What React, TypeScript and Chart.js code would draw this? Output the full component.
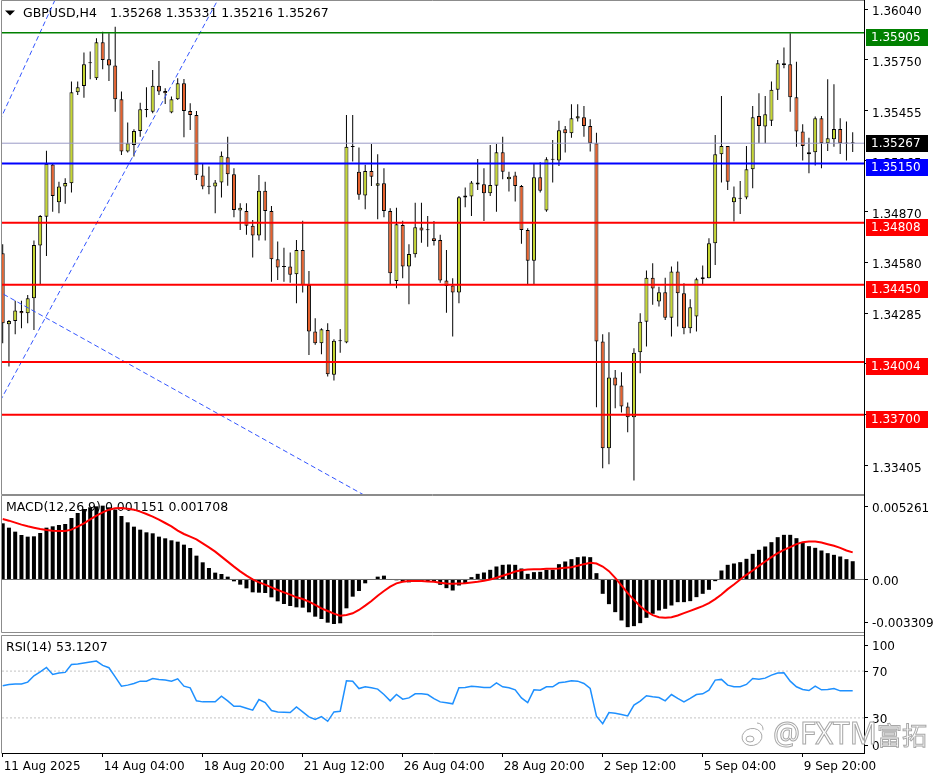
import React, { useEffect, useRef } from "react";
import { Chart, registerables } from "chart.js";

Chart.register(...registerables);

// ---------------- DATA ----------------
const opens = [
  1.34632, 1.34222, 1.34241, 1.34299, 1.34285, 1.34372, 1.34676, 1.34843, 1.35144, 1.34926,
  1.35017, 1.35036, 1.35561, 1.35598, 1.35728, 1.35642, 1.3585, 1.35752, 1.35715, 1.35521,
  1.35219, 1.35257, 1.35338, 1.35459, 1.35449, 1.35599, 1.35569, 1.35444, 1.35521, 1.35613,
  1.35453, 1.3543, 1.3508, 1.35017, 1.35017, 1.3504, 1.35186, 1.35088, 1.34878, 1.34876,
  1.34791, 1.34734, 1.34993, 1.34876, 1.34597, 1.34555, 1.34555, 1.34511, 1.34651, 1.34449,
  1.3418, 1.34112, 1.34189, 1.3393, 1.34124, 1.34116, 1.35247, 1.35103, 1.34965, 1.35107,
  1.35022, 1.35036, 1.34876, 1.34472, 1.34795, 1.34555, 1.34626, 1.3478, 1.34766, 1.34718,
  1.34709, 1.34474, 1.34445, 1.34405, 1.34953, 1.34959, 1.35028, 1.3503, 1.34978, 1.35022,
  1.35215, 1.35059, 1.3508, 1.3502, 1.34766, 1.34589, 1.3507, 1.34878, 1.35172, 1.35167,
  1.35347, 1.35324, 1.35409, 1.35417, 1.35367, 1.35267, 1.34122, 1.33506, 1.33914, 1.33868,
  1.33747, 1.33685, 1.3406, 1.34237, 1.34491, 1.34353, 1.34407, 1.3426, 1.34526, 1.34401,
  1.34199, 1.34266, 1.34482, 1.34487, 1.34689, 1.35203, 1.35251, 1.34926, 1.34947, 1.34953,
  1.35117, 1.35424, 1.35363, 1.35396, 1.35575, 1.35728, 1.35723, 1.35532, 1.35334, 1.35203,
  1.35215, 1.35411, 1.35267, 1.3529, 1.35349, 1.35267, 1.35268,
];
const highs = [
  1.34684, 1.34247, 1.34357, 1.34357, 1.34391, 1.34705, 1.34853, 1.35224, 1.35151, 1.35045,
  1.35065, 1.35623, 1.35623, 1.3579, 1.35796, 1.35873, 1.35911, 1.35902, 1.3594, 1.35565,
  1.35386, 1.35347, 1.35501, 1.3559, 1.3569, 1.35742, 1.35584, 1.35536, 1.35642, 1.35638,
  1.35498, 1.35453, 1.35151, 1.35132, 1.35055, 1.35219, 1.35305, 1.35122, 1.3492, 1.3492,
  1.34824, 1.35084, 1.35045, 1.34905, 1.34699, 1.34664, 1.34636, 1.34709, 1.3482, 1.34529,
  1.34257, 1.34199, 1.34228, 1.34135, 1.34195, 1.3543, 1.3543, 1.35242, 1.35142, 1.35263,
  1.35203, 1.35122, 1.34892, 1.34895, 1.3482, 1.34684, 1.34924, 1.34924, 1.34847, 1.34818,
  1.34738, 1.34651, 1.34487, 1.34963, 1.35011, 1.35049, 1.35176, 1.35122, 1.35257, 1.35263,
  1.35305, 1.35103, 1.35103, 1.35026, 1.34776, 1.35151, 1.35157, 1.35186, 1.35286, 1.35396,
  1.35367, 1.35492, 1.35492, 1.35482, 1.35405, 1.35328, 1.34164, 1.34176, 1.33958, 1.33945,
  1.3377, 1.34083, 1.34285, 1.34532, 1.34574, 1.34439, 1.34491, 1.34555, 1.34584, 1.34459,
  1.34366, 1.34491, 1.34561, 1.34718, 1.35315, 1.3554, 1.35251, 1.35017, 1.35049, 1.35251,
  1.35482, 1.35555, 1.3554, 1.35623, 1.35748, 1.35819, 1.35902, 1.35738, 1.35376, 1.35299,
  1.35421, 1.35424, 1.35636, 1.35607, 1.35411, 1.35392, 1.35331,
];
const lows = [
  1.34112, 1.33978, 1.34164, 1.34199, 1.34228, 1.34189, 1.34449, 1.34616, 1.34872, 1.34863,
  1.34917, 1.34982, 1.35546, 1.3553, 1.35636, 1.35632, 1.35694, 1.35626, 1.35449, 1.35199,
  1.35213, 1.3519, 1.35305, 1.35417, 1.3544, 1.35546, 1.35494, 1.3544, 1.35517, 1.35301,
  1.35344, 1.35055, 1.35001, 1.34972, 1.34863, 1.34953, 1.35022, 1.3484, 1.34766, 1.34738,
  1.34607, 1.34705, 1.34705, 1.34468, 1.34478, 1.34468, 1.34462, 1.34343, 1.34405, 1.34045,
  1.34103, 1.34049, 1.3392, 1.33897, 1.34058, 1.34112, 1.35161, 1.3494, 1.34886, 1.3502,
  1.34828, 1.3484, 1.34449, 1.3443, 1.34487, 1.34337, 1.34607, 1.34693, 1.3467, 1.34676,
  1.34462, 1.34289, 1.34151, 1.34343, 1.34897, 1.34847, 1.34997, 1.34818, 1.34963, 1.34872,
  1.35059, 1.34988, 1.3493, 1.34686, 1.34449, 1.34453, 1.34982, 1.34872, 1.3504, 1.35136,
  1.35213, 1.35299, 1.35392, 1.35305, 1.35219, 1.33743, 1.33391, 1.33414, 1.33737, 1.33712,
  1.33599, 1.3332, 1.33939, 1.34093, 1.34334, 1.34324, 1.34247, 1.34151, 1.34209, 1.34164,
  1.3417, 1.3418, 1.34455, 1.34487, 1.34564, 1.3504, 1.34997, 1.34815, 1.34859, 1.34943,
  1.35007, 1.35267, 1.35267, 1.35367, 1.35517, 1.357, 1.35449, 1.35247, 1.35167, 1.35094,
  1.35138, 1.35122, 1.35222, 1.35247, 1.35205, 1.35167, 1.35216,
];
const closes = [
  1.34228, 1.34241, 1.34301, 1.34285, 1.34372, 1.3468, 1.34847, 1.35149, 1.34963, 1.35017,
  1.35038, 1.35561, 1.3559, 1.35723, 1.3573, 1.3585, 1.35748, 1.35715, 1.35521, 1.35219,
  1.35267, 1.35338, 1.35463, 1.35461, 1.35599, 1.35565, 1.35555, 1.35521, 1.35613, 1.35453,
  1.3543, 1.35082, 1.35017, 1.35015, 1.3504, 1.35194, 1.35088, 1.34882, 1.34895, 1.34791,
  1.34734, 1.34993, 1.34876, 1.34597, 1.34549, 1.34553, 1.34507, 1.34651, 1.34449, 1.3418,
  1.34112, 1.34193, 1.33933, 1.34126, 1.34126, 1.35247, 1.35245, 1.34969, 1.35107, 1.35074,
  1.35036, 1.34876, 1.34516, 1.34799, 1.34555, 1.34628, 1.34782, 1.34763, 1.34765, 1.34703,
  1.34474, 1.34443, 1.34405, 1.34955, 1.34965, 1.3504, 1.3504, 1.34978, 1.35026, 1.35215,
  1.35103, 1.35074, 1.3502, 1.34766, 1.34589, 1.3507, 1.34993, 1.35174, 1.35174, 1.35342,
  1.35324, 1.35411, 1.35423, 1.35367, 1.35267, 1.34122, 1.33506, 1.33914, 1.33868, 1.33747,
  1.33685, 1.34058, 1.34237, 1.34491, 1.34428, 1.34407, 1.3426, 1.34526, 1.34401, 1.34199,
  1.3432, 1.34482, 1.34493, 1.34689, 1.35203, 1.35251, 1.35045, 1.34955, 1.34949, 1.35117,
  1.35417, 1.35367, 1.35434, 1.35575, 1.35728, 1.35719, 1.35532, 1.35334, 1.35251, 1.35215,
  1.35411, 1.35267, 1.35296, 1.35349, 1.35267, 1.35265, 1.35267,
];
const macdHist = [
  0.003539, 0.003266, 0.003014, 0.002804, 0.002699, 0.00272, 0.00293, 0.003266, 0.00335, 0.003434,
  0.003497, 0.003875, 0.00419, 0.004442, 0.004547, 0.00461, 0.004652, 0.004547, 0.0044, 0.004001,
  0.003602, 0.003329, 0.00314, 0.002972, 0.002909, 0.002699, 0.002594, 0.002468, 0.002384, 0.002195,
  0.001985, 0.001502, 0.001082, 0.000725, 0.000431, 0.000347, 0.000179, -0.000116, -0.000326, -0.000557,
  -0.000809, -0.00083, -0.000851, -0.001124, -0.001376, -0.001544, -0.00167, -0.001754, -0.001775, -0.002069,
  -0.002342, -0.002489, -0.00272, -0.002804, -0.002762, -0.001817, -0.001082, -0.000725, -0.000242, 0.00002,
  0.000179, 0.000242, -0.00001, -0.00005, -0.000137, -0.000179, -0.000137, -0.000137, -0.0001, -0.00015,
  -0.000336, -0.000546, -0.000693, -0.000378, -0.000231, 0.000147, 0.000357, 0.000441, 0.000609, 0.000819,
  0.000924, 0.000945, 0.000924, 0.000693, 0.000357, 0.000462, 0.000483, 0.000609, 0.000609, 0.000966,
  0.001134, 0.001281, 0.001407, 0.001449, 0.001407, 0.000399, -0.000903, -0.001554, -0.002058, -0.002583,
  -0.003003, -0.00294, -0.002751, -0.002415, -0.002163, -0.001953, -0.001848, -0.001638, -0.001428, -0.001428,
  -0.001365, -0.001113, -0.000903, -0.000651, -0.000105, 0.000567, 0.000924, 0.001008, 0.001092, 0.001302,
  0.001617, 0.001869, 0.002079, 0.002352, 0.002667, 0.002814, 0.002814, 0.002604, 0.002352, 0.0021,
  0.001995, 0.001827, 0.001659, 0.001554, 0.001449, 0.001281, 0.001151,
];
const macdSignal = [
  0.003812, 0.003707, 0.003581, 0.003455, 0.00335, 0.003266, 0.003182, 0.003119, 0.003077, 0.003056,
  0.003056, 0.00314, 0.003329, 0.003539, 0.003791, 0.004022, 0.004232, 0.0044, 0.004484, 0.004505,
  0.004463, 0.0044, 0.004274, 0.004127, 0.003959, 0.00377, 0.00356, 0.00335, 0.003077, 0.002867,
  0.002699, 0.002531, 0.002279, 0.002027, 0.001754, 0.001439, 0.001124, 0.000809, 0.000515, 0.000242,
  0.000011, -0.000179, -0.000326, -0.000494, -0.000662, -0.000809, -0.000956, -0.001124, -0.001229, -0.001397,
  -0.001607, -0.001817, -0.001985, -0.002153, -0.002279, -0.002237, -0.002132, -0.001922, -0.001649, -0.001355,
  -0.001019, -0.000725, -0.000452, -0.000242, -0.000137, -0.0001, -0.0001, -0.0001, -0.00012, -0.000147,
  -0.00021, -0.000252, -0.000273, -0.000252, -0.000231, -0.000189, -0.000147, -0.000084, 0.0, 0.000105,
  0.000231, 0.000357, 0.000504, 0.000588, 0.00063, 0.000651, 0.000651, 0.000672, 0.000672, 0.000693,
  0.000735, 0.000777, 0.000861, 0.000966, 0.00105, 0.001008, 0.000819, 0.000525, 0.000105, -0.000378,
  -0.000861, -0.001281, -0.00168, -0.002016, -0.002247, -0.002373, -0.002415, -0.002373, -0.002268, -0.002121,
  -0.001974, -0.001827, -0.00168, -0.001491, -0.001239, -0.000945, -0.000609, -0.000315, 0.0, 0.000294,
  0.000567, 0.000861, 0.001134, 0.001407, 0.001659, 0.001869, 0.002037, 0.002226, 0.002352, 0.002394,
  0.002394, 0.002331, 0.002226, 0.002121, 0.001995, 0.001827, 0.001708,
];
const rsiValues = [
  57.4, 58.6, 58.9, 58.9, 60.6, 66.0, 69.4, 73.1, 67.1, 68.3,
  68.9, 75.7, 76.0, 76.9, 77.7, 78.6, 74.9, 72.9, 65.1, 57.1,
  58.0, 59.4, 61.4, 61.4, 63.7, 62.9, 62.3, 61.4, 63.4, 57.1,
  55.7, 44.6, 43.7, 43.7, 43.7, 48.6, 44.6, 40.0, 40.0, 38.3,
  36.6, 45.7, 43.1, 36.3, 35.1, 34.9, 34.6, 39.4, 35.1, 30.9,
  28.6, 31.1, 27.1, 35.1, 35.7, 61.7, 61.4, 55.1, 56.6, 55.7,
  54.6, 50.0, 44.6, 50.0, 46.0, 47.1, 50.6, 50.6, 50.0, 46.5,
  43.7, 42.9, 42.0, 55.7, 56.0, 57.1, 56.6, 56.0, 56.0, 60.0,
  56.6, 55.7, 54.0, 47.1, 43.1, 54.0, 53.7, 56.6, 56.6, 60.0,
  60.6, 61.7, 61.4, 59.4, 55.1, 31.4, 25.1, 34.6, 34.0, 32.9,
  31.7, 40.9, 44.3, 48.9, 48.0, 47.4, 44.6, 50.0, 46.6, 43.7,
  46.6, 50.0, 50.6, 53.7, 62.3, 62.9, 58.0, 56.6, 56.6, 58.6,
  63.7, 63.1, 64.0, 66.6, 68.3, 68.6, 61.4, 56.6, 54.3, 53.4,
  57.1, 54.0, 54.3, 55.1, 53.1, 53.1, 53.1207,
];

const xTickIndex = [0, 16, 32, 48, 64, 80, 96, 112, 128];
const xTickText = [
  "11 Aug 2025", "14 Aug 04:00", "18 Aug 20:00", "21 Aug 12:00", "26 Aug 04:00",
  "28 Aug 20:00", "2 Sep 12:00", "5 Sep 04:00", "9 Sep 20:00",
];
const priceTicks = [1.3604, 1.3575, 1.35455, 1.35165, 1.3487, 1.3458, 1.34285, 1.33995, 1.337, 1.33405];
const levelPrices = [1.35905, 1.3515, 1.34808, 1.3445, 1.34004, 1.337];
const levelColors = ["#008000", "#0000ff", "#ff0000", "#ff0000", "#ff0000", "#ff0000"];
const levelWidths = [1.5, 2, 2, 2, 2, 2];
const currentPrice = 1.35267;
const headerSymbol = "GBPUSD,H4";
const headerQuote = [1.35268, 1.35331, 1.35216, 1.35267];
// trend lines: [startIndex, startPrice, endIndex, endPrice]
const trendStartX = [-1, -1, -1];
const trendStartY = [1.35355, 1.33739, 1.34418];
const trendEndX = [9, 35, 60];
const trendEndY = [1.36144, 1.36133, 1.33192];
const macdTitle = "MACD(12,26,9) 0.001151 0.001708";
const macdAxisValues = [0.005261, 0, -0.003309];
const macdAxisText = ["0.005261", "0.00", "-0.003309"];
const rsiTitle = "RSI(14) 53.1207";
const rsiAxisValues = [100, 70, 30, 0];
const rsiAxisText = ["100", "70", "30", "0"];
const rsiLevels = [70, 30];

// ---------------- STYLE / GEOMETRY ----------------
const FONT = "'DejaVu Sans', Verdana, sans-serif";
const W = 936;
const AXIS_W = 72;
const PAD_L = 2;
const X_MIN = -0.112;
const X_MAX = 137.808;
const MAIN_MIN = 1.33242;
const MAIN_MAX = 1.36088;
const MACD_MIN = -0.003309;
const MACD_MAX = 0.005261;
const MACD_PANEL_H = 136;
const RSI_PANEL_H = 117;
const macdShiftPx = [11, 0, -10];
const rsiShiftPx = [9, 0, 0, -8];
const BULL = "#c6d730";
const BEAR = "#e8612c";

const idx = opens.map((_, i) => i);

function zeroPad(s: any) {
  s.paddingTop = 0;
  s.paddingBottom = 0;
  s.paddingLeft = 0;
  s.paddingRight = 0;
}

function hiddenX() {
  return {
    type: "linear",
    min: X_MIN,
    max: X_MAX,
    offset: false,
    display: false,
    afterFit: (s: any) => zeroPad(s),
  };
}

function rightAxis(
  min: number,
  max: number,
  values: number[],
  texts: string[],
  shifts: number[],
  panelH: number,
  labelOffset: number
) {
  return {
    position: "right",
    min,
    max,
    beginAtZero: false,
    afterFit: (s: any) => {
      s.width = AXIS_W;
      zeroPad(s);
    },
    afterBuildTicks: (s: any) => {
      const perPx = (max - min) / panelH;
      s.ticks = values.map((v, k) => ({ value: v - shifts[k] * perPx }));
    },
    ticks: {
      autoSkip: false,
      padding: 4,
      labelOffset,
      color: "#000",
      font: { family: FONT, size: 12 },
      callback: (_v: any, i: number) => texts[i],
    },
    grid: { drawOnChartArea: false, drawTicks: true, tickLength: 4, color: "#000", lineWidth: 1 },
    border: { display: true, color: "#000", width: 1 },
  };
}

function framePlugin(drawBottom: boolean, axisToCanvasBottom: boolean) {
  return {
    id: "frame",
    afterDraw(chart: any) {
      const { ctx, chartArea: a } = chart;
      ctx.save();
      ctx.strokeStyle = "#8c8c8c";
      ctx.lineWidth = 1;
      ctx.beginPath();
      ctx.moveTo(a.left - 0.5, a.top - 0.5);
      ctx.lineTo(a.right, a.top - 0.5);
      ctx.moveTo(a.left - 0.5, a.top - 0.5);
      ctx.lineTo(a.left - 0.5, a.bottom + 0.5);
      if (drawBottom) {
        ctx.moveTo(a.left - 0.5, a.bottom + 0.5);
        ctx.lineTo(a.right, a.bottom + 0.5);
      }
      ctx.stroke();
      ctx.strokeStyle = "#000";
      ctx.beginPath();
      ctx.moveTo(a.right + 0.5, 0);
      ctx.lineTo(a.right + 0.5, axisToCanvasBottom ? chart.height : a.bottom + 1);
      ctx.stroke();
      ctx.restore();
    },
  };
}

function flatLine(y: number, color: string, width: number, dash: number[] = []) {
  return {
    type: "line",
    data: [
      { x: X_MIN, y },
      { x: X_MAX, y },
    ],
    borderColor: color,
    borderWidth: width,
    borderDash: dash,
    pointRadius: 0,
    order: 0,
  };
}

const baseOptions = {
  responsive: false,
  animation: false,
  events: [],
  plugins: { legend: { display: false }, tooltip: { enabled: false } },
};

function buildMain(canvas: HTMLCanvasElement) {
  const headerPlugin = {
    id: "header",
    beforeDatasetsDraw(chart: any) {
      const ctx = chart.ctx;
      ctx.save();
      ctx.fillStyle = "#000";
      ctx.beginPath();
      ctx.moveTo(5, 10.5);
      ctx.lineTo(15, 10.5);
      ctx.lineTo(10, 15.5);
      ctx.closePath();
      ctx.fill();
      ctx.font = `12.5px ${FONT}`;
      ctx.textBaseline = "middle";
      ctx.fillText(headerSymbol, 23, 13.5);
      ctx.fillText(headerQuote.map((v) => v.toFixed(5)).join(" "), 110, 13.5);
      ctx.restore();
    },
  };
  const boxesPlugin = {
    id: "priceBoxes",
    afterDraw(chart: any) {
      const ctx = chart.ctx;
      const ys = chart.scales.y;
      const x0 = chart.chartArea.right + 2;
      ctx.save();
      ctx.font = `12px ${FONT}`;
      ctx.textBaseline = "middle";
      levelPrices.forEach((p, k) => {
        const py = Math.round(ys.getPixelForValue(p));
        ctx.fillStyle = levelColors[k];
        ctx.fillRect(x0, py - 4, 62, 17);
        ctx.fillStyle = "#fff";
        ctx.fillText(p.toFixed(5), x0 + 5, py + 4.5);
      });
      const cy = Math.round(ys.getPixelForValue(currentPrice));
      ctx.fillStyle = "#000";
      ctx.fillRect(x0, cy - 8, 62, 17);
      ctx.fillStyle = "#fff";
      ctx.fillText(currentPrice.toFixed(5), x0 + 5, cy + 0.5);
      ctx.restore();
    },
  };

  const datasets: any[] = [
    ...levelPrices.map((p, k) => flatLine(p, levelColors[k], levelWidths[k])),
    flatLine(currentPrice, "#9a9ac6", 1),
    ...trendStartX.map((_, k) => ({
      type: "line",
      data: [
        { x: trendStartX[k], y: trendStartY[k] },
        { x: trendEndX[k], y: trendEndY[k] },
      ],
      borderColor: "#3355ff",
      borderWidth: 1,
      borderDash: [5, 3],
      pointRadius: 0,
      order: 0,
    })),
    {
      type: "bar",
      data: idx.map((i) => ({ x: i, y: [Math.min(opens[i], closes[i]), Math.max(opens[i], closes[i])] })),
      backgroundColor: idx.map((i) => (closes[i] >= opens[i] ? BULL : BEAR)),
      borderColor: "#000",
      borderWidth: 1,
      borderSkipped: false,
      barThickness: 4,
      maxBarThickness: 4,
      minBarLength: 1,
      inflateAmount: 0,
      grouped: false,
      order: 1,
    },
    {
      type: "bar",
      data: idx.map((i) => ({ x: i, y: [lows[i], highs[i]] })),
      backgroundColor: "#000",
      borderWidth: 0,
      barThickness: 1,
      maxBarThickness: 1,
      minBarLength: 1,
      inflateAmount: 0,
      grouped: false,
      order: 2,
    },
  ];

  return new Chart(canvas, {
    type: "bar",
    data: { datasets },
    options: {
      ...baseOptions,
      layout: { padding: { left: PAD_L, top: 1, bottom: 1, right: 0 } },
      scales: {
        x: hiddenX(),
        y: rightAxis(
          MAIN_MIN,
          MAIN_MAX,
          priceTicks,
          priceTicks.map((v) => v.toFixed(5)),
          priceTicks.map(() => 0),
          493,
          3
        ),
      },
    },
    plugins: [headerPlugin, framePlugin(true, true), boxesPlugin],
  } as any);
}

function titlePlugin(text: string, y: number) {
  return {
    id: "title",
    beforeDatasetsDraw(chart: any) {
      const ctx = chart.ctx;
      ctx.save();
      ctx.fillStyle = "#000";
      ctx.font = `12.5px ${FONT}`;
      ctx.textBaseline = "middle";
      ctx.fillText(text, 6, y);
      ctx.restore();
    },
  };
}

function buildMacd(canvas: HTMLCanvasElement) {
  return new Chart(canvas, {
    type: "bar",
    data: {
      datasets: [
        {
          type: "line",
          data: idx.map((i) => ({ x: i, y: macdSignal[i] })),
          borderColor: "#ff0000",
          borderWidth: 2,
          pointRadius: 0,
          tension: 0,
          order: 0,
        },
        { ...flatLine(0, "#6a6a6a", 1), order: 1 },
        {
          type: "bar",
          data: idx.map((i) => ({ x: i, y: macdHist[i] })),
          backgroundColor: "#000",
          borderWidth: 0,
          barThickness: 4,
          maxBarThickness: 4,
          inflateAmount: 0,
          grouped: false,
          order: 2,
        },
      ],
    },
    options: {
      ...baseOptions,
      layout: { padding: { left: PAD_L, top: 1, bottom: 1, right: 0 } },
      scales: {
        x: hiddenX(),
        y: rightAxis(MACD_MIN, MACD_MAX, macdAxisValues, macdAxisText, macdShiftPx, MACD_PANEL_H, 2),
      },
    },
    plugins: [titlePlugin(macdTitle, 13), framePlugin(true, true)],
  } as any);
}

function buildRsi(canvas: HTMLCanvasElement) {
  const watermark = {
    id: "watermark",
    afterDraw(chart: any) {
      const ctx = chart.ctx;
      ctx.save();
      ctx.strokeStyle = "#a8a8a8";
      ctx.fillStyle = "rgba(255,255,255,0.65)";
      ctx.lineWidth = 1;
      ctx.beginPath();
      ctx.ellipse(752, 104, 10, 8.5, -0.2, 0, Math.PI * 2);
      ctx.fill();
      ctx.stroke();
      ctx.beginPath();
      ctx.ellipse(750, 106, 4, 3, 0, 0, Math.PI * 2);
      ctx.stroke();
      ctx.beginPath();
      ctx.arc(757, 96, 6, -Math.PI / 2, 0.2);
      ctx.stroke();
      ctx.textBaseline = "alphabetic";
      ctx.font = `30px 'Noto Sans', sans-serif`;
      ctx.fillText("@FXTM", 773, 111);
      ctx.strokeText("@FXTM", 773, 111);
      ctx.font = `25px 'Noto Sans CJK SC', sans-serif`;
      ctx.fillText("富拓", 877, 112);
      ctx.strokeText("富拓", 877, 112);
      ctx.restore();
    },
  };
  return new Chart(canvas, {
    type: "line",
    data: {
      datasets: [
        {
          type: "line",
          data: idx.map((i) => ({ x: i, y: rsiValues[i] })),
          borderColor: "#1e90ff",
          borderWidth: 1.5,
          pointRadius: 0,
          tension: 0,
          order: 0,
        },
        ...rsiLevels.map((v) => ({ ...flatLine(v, "#c4c4c4", 1, [2, 2]), order: 1 })),
      ],
    },
    options: {
      ...baseOptions,
      layout: { padding: { left: PAD_L, top: 3, bottom: 0, right: 0 } },
      scales: {
        x: {
          type: "linear",
          position: "bottom",
          min: X_MIN,
          max: X_MAX,
          offset: false,
          afterFit: (s: any) => {
            s.height = 27;
            zeroPad(s);
          },
          afterBuildTicks: (s: any) => {
            s.ticks = xTickIndex.map((v) => ({ value: v }));
          },
          ticks: {
            autoSkip: false,
            maxRotation: 0,
            minRotation: 0,
            align: "start",
            padding: 3,
            labelOffset: 1,
            color: "#000",
            font: { family: FONT, size: 12 },
            callback: (_v: any, i: number) => xTickText[i],
          },
          grid: { drawOnChartArea: false, drawTicks: true, tickLength: 4, color: "#000" },
          border: { display: true, color: "#000", width: 1 },
        },
        y: rightAxis(0, 100, rsiAxisValues, rsiAxisText, rsiShiftPx, RSI_PANEL_H, 2),
      },
    },
    plugins: [titlePlugin(rsiTitle, 14.7), framePlugin(false, false), watermark],
  } as any);
}

export default function App() {
  const mainRef = useRef<HTMLCanvasElement>(null);
  const macdRef = useRef<HTMLCanvasElement>(null);
  const rsiRef = useRef<HTMLCanvasElement>(null);

  useEffect(() => {
    const charts = [
      buildMain(mainRef.current as HTMLCanvasElement),
      buildMacd(macdRef.current as HTMLCanvasElement),
      buildRsi(rsiRef.current as HTMLCanvasElement),
    ];
    return () => charts.forEach((c) => c.destroy());
  }, []);

  return (
    <div style={{ position: "absolute", left: 0, top: 0, width: W, height: 780, background: "#fff", overflow: "hidden" }}>
      <canvas ref={mainRef} width={W} height={495} style={{ position: "absolute", left: 0, top: 0 }} />
      <canvas ref={macdRef} width={W} height={138} style={{ position: "absolute", left: 0, top: 495 }} />
      <canvas ref={rsiRef} width={W} height={147} style={{ position: "absolute", left: 0, top: 633 }} />
    </div>
  );
}
